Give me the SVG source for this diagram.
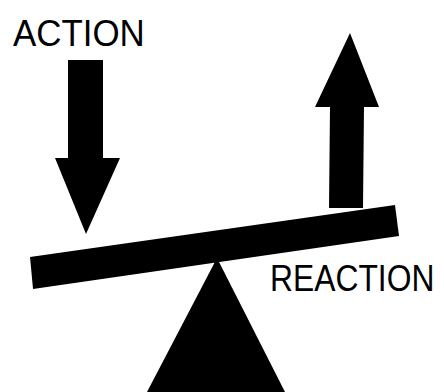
<svg xmlns="http://www.w3.org/2000/svg" width="444" height="392" viewBox="0 0 444 392">
<style>
.shape{fill:#000;stroke:none}
.lbl{font-family:"Liberation Sans","DejaVu Sans",sans-serif;font-weight:normal;fill:#000}
</style>
<rect width="444" height="392" fill="#fff"/>
<g id="action-label"><text class="lbl" transform="translate(13,46) scale(0.943,1)" x="0" y="0" font-size="37">ACTION</text></g>
<g id="action-arrow"><polygon class="shape" points="68,60 103,60 103,158 120,158 86,234 55,158 68,158"/></g>
<g id="reaction-arrow"><polygon class="shape" points="350,33 379,107 364,107 363,208 329,208 330,107 315,107"/></g>
<g id="fulcrum"><polygon class="shape" points="217,258 285,392 147,392"/></g>
<g id="beam"><polygon class="shape" points="30,257 395,205 399,236 33,289"/></g>
<g id="reaction-label"><text class="lbl" transform="translate(270,291) scale(0.86,1)" x="0" y="0" font-size="37">REACTION</text></g>
</svg>
